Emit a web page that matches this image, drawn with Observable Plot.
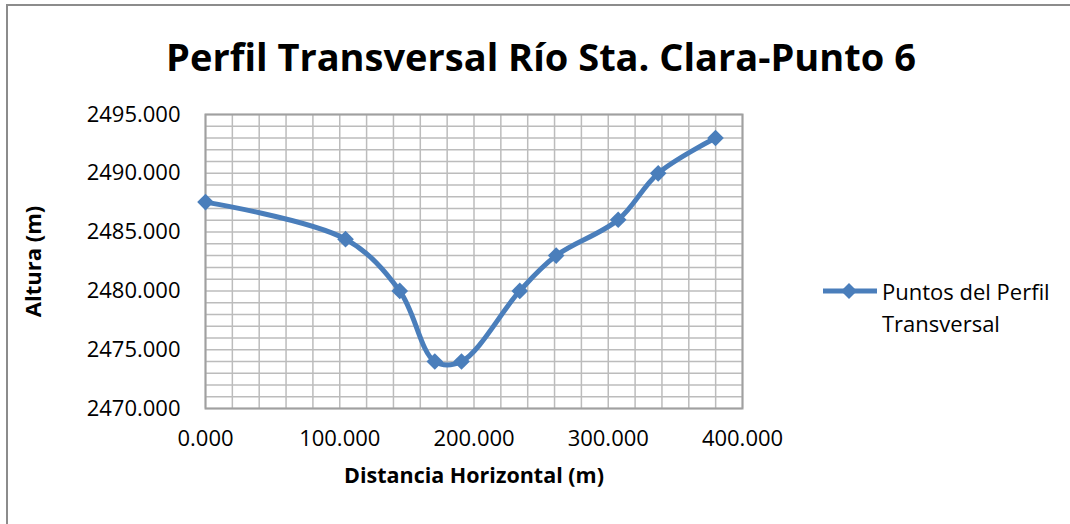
<!DOCTYPE html>
<html>
<head>
<meta charset="utf-8">
<script src="https://cdn.jsdelivr.net/npm/d3@7"></script>
<script src="https://cdn.jsdelivr.net/npm/@observablehq/plot@0.6"></script>
<style>
  body { margin: 0; background: #fff; }
  #chart { position: relative; width: 1070px; height: 524px; overflow: hidden; font-family: "Open Sans", sans-serif; color: #000; }
  #border { position: absolute; left: 6px; top: 4px; width: 1080px; height: 540px; border: 2px solid #8c8c8c; box-sizing: border-box; }
  #title { position: absolute; left: 6px; width: 1070px; top: 31px; line-height: 50px; text-align: center; font-weight: bold; font-size: 38px; white-space: nowrap; }
  #plot { position: absolute; left: 0; top: 0; }
  #legend { position: absolute; left: 820px; top: 275px; }
  #legend svg { position: absolute; left: 0; top: 6px; }
  #legend .txt { position: absolute; left: 62px; top: 0; font-size: 22px; line-height: 32px; white-space: nowrap; }
</style>
</head>
<body>
<div id="chart">
  <div id="border"></div>
  <div id="title">Perfil Transversal Río Sta. Clara-Punto 6</div>
  <div id="plot"></div>
  <div id="legend">
    <svg width="60" height="20">
      <line x1="3" y1="10" x2="57" y2="10" stroke="#4a7ebb" stroke-width="5"></line>
      <path d="M29,2 L37,10 L29,18 L21,10 Z" fill="#4a7ebb"></path>
    </svg>
    <div class="txt">Puntos del Perfil<br>Transversal</div>
  </div>
</div>
<script>
// Cross-section survey points: horizontal distance (m) and elevation (m)
const distancia = [0, 104.3, 144.7, 170.8, 190.7, 234.1, 261.2, 307.4, 337.2, 379.9];
const altura = [2487.55, 2484.4, 2480.0, 2474.0, 2474.0, 2480.0, 2483.0, 2486.05, 2490.0, 2493.0];

// Axis ticks (labelled) and gridlines
const xTicks = [0, 100, 200, 300, 400];
const yTicks = [2470, 2475, 2480, 2485, 2490, 2495];
const xGrid = d3.range(0, 401, 20);
const yGrid = d3.range(2470, 2496, 1);

const puntos = distancia.map((d, i) => ({distancia: d, altura: altura[i]}));
const fmt = d => d.toFixed(3);
const azul = "#4a7ebb";
const gris = "#bcbcbc";

const chart = Plot.plot({
  width: 1070,
  height: 524,
  marginLeft: 205,
  marginRight: 328,
  marginTop: 114,
  marginBottom: 116,
  x: {domain: [0, 400]},
  y: {domain: [2470, 2495]},
  style: {fontFamily: "'Open Sans', sans-serif", fontSize: "22px", color: "#000", background: "transparent"},
  marks: [
    Plot.gridX(xGrid, {stroke: gris, strokeOpacity: 1, strokeWidth: 1.5}),
    Plot.gridY(yGrid, {stroke: gris, strokeOpacity: 1, strokeWidth: 1.5}),
    Plot.frame({stroke: "#a0a0a0", strokeWidth: 2}),
    Plot.axisX(xTicks, {tickSize: 0, tickPadding: 22, tickFormat: fmt, label: null}),
    Plot.axisY(yTicks, {tickSize: 0, tickPadding: 25, tickFormat: fmt, label: null}),
    Plot.text(["Distancia Horizontal (m)"], {frameAnchor: "bottom", textAnchor: "middle", dy: 74, fontWeight: "bold", fontSize: 21.5}),
    Plot.text(["Altura (m)"], {frameAnchor: "left", textAnchor: "middle", dx: -172, rotate: -90, fontWeight: "bold", fontSize: 22}),
    Plot.line(puntos, {x: "distancia", y: "altura", curve: "catmull-rom", stroke: azul, strokeWidth: 5}),
    Plot.dot(puntos, {x: "distancia", y: "altura", symbol: "diamond2", r: 7.5, fill: azul, stroke: "none"})
  ]
});
document.getElementById("plot").appendChild(chart);
</script>
</body>
</html>
